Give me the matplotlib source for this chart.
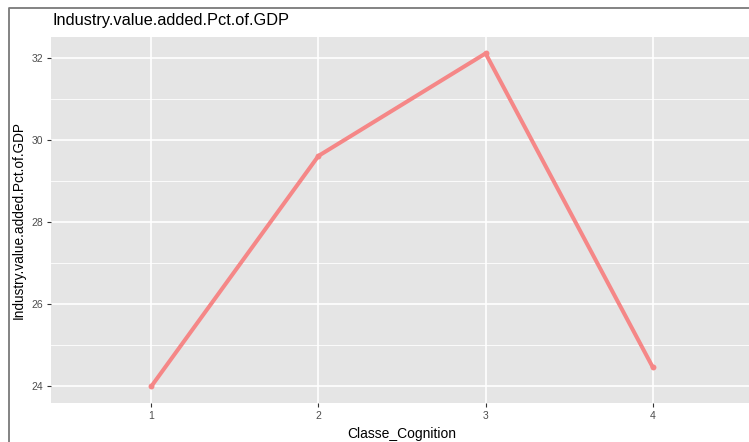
import matplotlib
matplotlib.use('Agg')

import matplotlib.pyplot as plt
from matplotlib.lines import Line2D

# data
classes = [1, 2, 3, 4]
values = [23.98, 29.6, 32.1, 24.45]
y_ticks = [24, 26, 28, 30, 32]
y_minor = [25, 27, 29, 31]

title = 'Industry.value.added.Pct.of.GDP'
x_label = 'Classe_Cognition'
y_label = 'Industry.value.added.Pct.of.GDP'

plt.rcParams['font.family'] = ['Liberation Sans', 'DejaVu Sans']

W, H = 749, 442
DPI = 100
fig = plt.figure(figsize=(W / DPI, H / DPI), dpi=DPI)
fig.patch.set_facecolor('white')

# panel spans 51..753 px horizontally (right edge cut by the screenshot), 37..403 vertically
ax = fig.add_axes([51 / W, (H - 403) / H, (753 - 51) / W, (403 - 37) / H])
ax.set_facecolor('#E5E5E5')
for s in ax.spines.values():
    s.set_visible(False)

ax.set_xlim(0.4, 4.6)
ax.set_ylim(23.575, 32.5)

for y in y_minor:
    ax.axhline(y, color='white', lw=0.6, zorder=1)
for y in y_ticks:
    ax.axhline(y, color='white', lw=1.2, zorder=1)
for x in classes:
    ax.axvline(x, color='white', lw=1.2, zorder=1)

ax.plot(classes, values, color='#F58787', lw=2.9, solid_capstyle='round', zorder=3)
ax.scatter(classes, values, s=18, color='#F58787', zorder=4, linewidths=0)

ax.set_xticks(classes)
ax.set_xticklabels([str(c) for c in classes])
ax.set_yticks(y_ticks)
ax.tick_params(axis='both', length=3, width=0.8, color='#333333',
               labelcolor='#4D4D4D', labelsize=7.5, pad=2.5)

ax.set_xlabel(x_label, fontsize=10, color='black', labelpad=3)
ax.xaxis.set_label_coords((402 - 51) / (753 - 51), -0.065)
ax.set_ylabel(y_label, fontsize=9.8, color='black', labelpad=4)

fig.text(52 / W, 1 - 21 / H, title, fontsize=11.8, color='black', va='center', ha='left')

# screenshot frame
fig.add_artist(Line2D([9 / W, 9 / W, 1.0], [0.0, 1 - 8 / H, 1 - 8 / H],
                      transform=fig.transFigure, color='#7A7A7A', lw=1.3))

fig.savefig('out.png', dpi=DPI)
